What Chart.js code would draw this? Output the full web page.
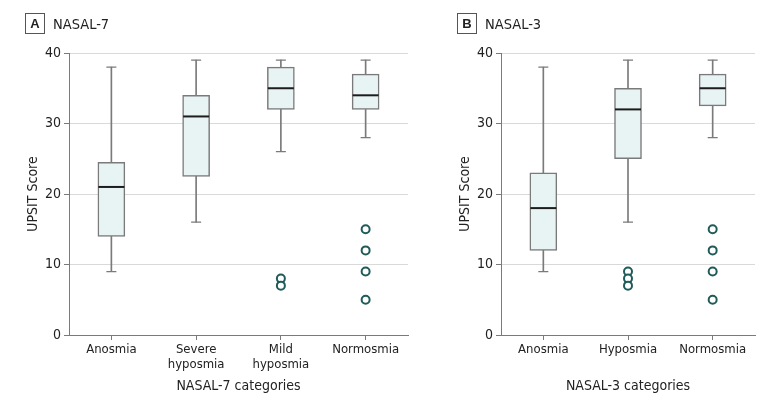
<!DOCTYPE html>
<html lang="en">
<head>
<meta charset="UTF-8">
<title>UPSIT by NASAL categories</title>
<script src="https://cdn.jsdelivr.net/npm/chart.js"></script>
<style>
  body { margin: 0; background: #fff; font-family: "DejaVu Sans Condensed", sans-serif; }
  .panel { position: absolute; top: 0; height: 405px; }
  .head { position: absolute; top: 13px; display: flex; align-items: center; color: #222; }
  .tag { box-sizing: border-box; width: 20px; height: 21px; border: 1px solid #555; font-weight: bold; font-size: 13px;
         display: flex; align-items: center; justify-content: center; font-family: "Liberation Sans", sans-serif; }
  .name { margin-left: 8px; font-size: 14.5px; }
</style>
</head>
<body>
  <div class="panel" style="left:0;width:410px"><canvas id="chartA" width="410" height="405"></canvas></div>
  <div class="panel" style="left:410px;width:370px"><canvas id="chartB" width="370" height="405"></canvas></div>
  <div class="head" style="left:25px"><div class="tag">A</div><div class="name">NASAL-7</div></div>
  <div class="head" style="left:457px"><div class="tag">B</div><div class="name">NASAL-3</div></div>

<script>
// NASAL-7 panel
var catsA = ['Anosmia', 'Severe hyposmia', 'Mild hyposmia', 'Normosmia'];
var minA = [9, 16, 26, 28];
var q1A = [14, 22.5, 32, 32];
var medA = [21, 31, 35, 34];
var q3A = [24.5, 34, 38, 37];
var maxA = [38, 39, 39, 39];
var outA = [[], [], [8, 7], [15, 12, 9, 5]];

// NASAL-3 panel
var catsB = ['Anosmia', 'Hyposmia', 'Normosmia'];
var minB = [9, 16, 28];
var q1B = [12, 25, 32.5];
var medB = [18, 32, 35];
var q3B = [23, 35, 37];
var maxB = [38, 39, 39];
var outB = [[], [9, 8, 7], [15, 12, 9, 5]];

var yTicks = [0, 10, 20, 30, 40];

var FONT = '"DejaVu Sans Condensed", sans-serif';
var GREY = '#7a7a7a';

function makeChart(id, cats, mins, q1s, meds, q3s, maxs, outs, xTitle, axisW, yTitlePad, padRight) {
    var outPts = [];
    outs.forEach(function(list, i) {
        list.forEach(function(v) { outPts.push({ x: cats[i], y: v }); });
    });

    return new Chart(document.getElementById(id).getContext('2d'), {
        type: 'bar',
        data: {
            labels: cats,
            datasets: [
                // lower whisker
                { type: 'bar', data: mins.map(function(m, i) { return [m, q1s[i]]; }),
                  backgroundColor: GREY, barThickness: 1, grouped: false, order: 5 },
                // upper whisker
                { type: 'bar', data: q3s.map(function(q, i) { return [q, maxs[i]]; }),
                  backgroundColor: GREY, barThickness: 1, grouped: false, order: 5 },
                // box
                { type: 'bar', data: q1s.map(function(q, i) { return [q, q3s[i]]; }),
                  backgroundColor: '#e8f3f4', borderColor: GREY, borderWidth: 1.5, borderSkipped: false,
                  barThickness: 27, grouped: false, order: 4 },
                // whisker caps
                { type: 'line', data: mins, showLine: false, pointStyle: 'line', pointRadius: 5,
                  pointBorderColor: GREY, pointBorderWidth: 1.2, order: 3 },
                { type: 'line', data: maxs, showLine: false, pointStyle: 'line', pointRadius: 5,
                  pointBorderColor: GREY, pointBorderWidth: 1.2, order: 3 },
                // median
                { type: 'line', data: meds, showLine: false, pointStyle: 'line', pointRadius: 13,
                  pointBorderColor: '#1c1c1c', pointBorderWidth: 2, order: 2 },
                // outliers
                { type: 'line', data: outPts, showLine: false, pointStyle: 'circle', pointRadius: 4,
                  pointBorderColor: '#1f5b59', pointBackgroundColor: '#ffffff', pointBorderWidth: 2, order: 1 }
            ]
        },
        options: {
            responsive: false,
            animation: false,
            events: [],
            layout: { autoPadding: false, padding: { left: 0, top: 53, right: padRight, bottom: 0 } },
            plugins: { legend: { display: false }, tooltip: { enabled: false } },
            scales: {
                x: {
                    offset: true,
                    border: { color: GREY, width: 1 },
                    grid: { offset: false, drawOnChartArea: false, drawTicks: true, tickLength: 5, tickColor: GREY },
                    ticks: {
                        color: '#222', padding: 2, maxRotation: 0, autoSkip: false,
                        font: { family: FONT, size: 13, lineHeight: 1.18 },
                        callback: function(v) {
                            var l = this.getLabelForValue(v);
                            return l.indexOf(' ') > 0 ? l.split(' ') : l;
                        }
                    },
                    title: { display: true, text: xTitle, color: '#222',
                             font: { family: FONT, size: 14 }, padding: { top: 0, bottom: 10 } },
                    afterFit: function(s) { s.height = 70; s.paddingLeft = 0; s.paddingRight = 0; }
                },
                y: {
                    min: 0, max: 40,
                    afterBuildTicks: function(s) { s.ticks = yTicks.map(function(v) { return { value: v }; }); },
                    border: { color: GREY, width: 1 },
                    grid: { color: '#d9d9d9', tickColor: GREY, tickLength: 5, drawTicks: true },
                    ticks: { color: '#222', padding: 3, font: { family: FONT, size: 14 } },
                    title: { display: true, text: 'UPSIT Score', color: '#222',
                             font: { family: FONT, size: 14 }, padding: { top: yTitlePad, bottom: 0 } },
                    afterFit: function(s) { s.width = axisW; s.paddingTop = 0; s.paddingBottom = 0; }
                }
            }
        }
    });
}

var chartA = makeChart('chartA', catsA, minA, q1A, medA, q3A, maxA, outA, 'NASAL-7 categories', 69, 25, 2);
var chartB = makeChart('chartB', catsB, minB, q1B, medB, q3B, maxB, outB, 'NASAL-3 categories', 91, 47, 25);
</script>
</body>
</html>
